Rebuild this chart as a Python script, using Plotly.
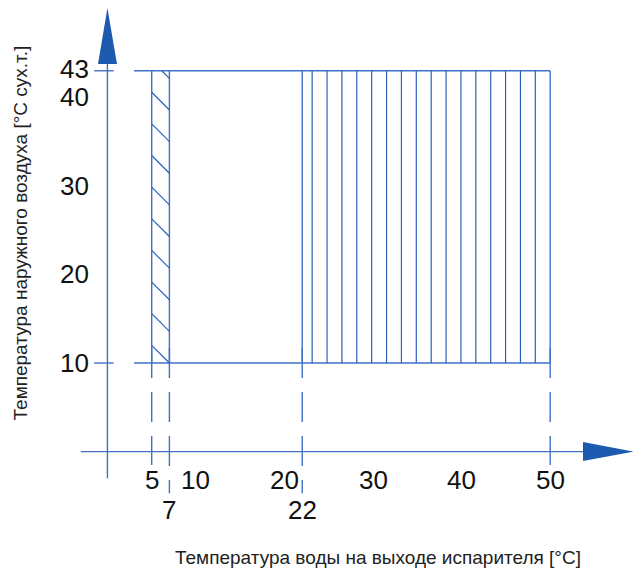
import numpy as np
import plotly.graph_objects as go

# Tick labels on the axes
x_tick_vals = [5, 10, 20, 30, 40, 50]
x_tick_vals_low = [7, 22]
y_tick_vals = [10, 20, 30, 40, 43]

# Operating envelope limits
water_zone_a = [5, 7]      # narrow zone, diagonal hatch
water_zone_b = [22, 50]    # main zone, vertical hatch
air_range = [10, 43]
limit_start_x = 3          # horizontal limit lines begin here

x_title = "Температура воды на выходе испарителя [°C]"
y_title = "Температура наружного воздуха [°C сух.т.]"

LINE = "#3f72c4"
HATCH = "#2a62b8"
ARROW = "#1c5bb0"
TXT = "#111111"

fig = go.Figure()


def add_segments(segs, color=LINE, width=1.4, dash="solid"):
    xs, ys = [], []
    for (x0, y0, x1, y1) in segs:
        xs += [x0, x1, None]
        ys += [y0, y1, None]
    fig.add_trace(go.Scatter(x=xs, y=ys, mode="lines", hoverinfo="skip",
                             line=dict(color=color, width=width, dash=dash),
                             showlegend=False))


lo, hi = air_range

# axes
add_segments([(0, -3, 0, 43.8), (-3, 0, 53.8, 0)])
# y ticks at the envelope limits
add_segments([(-1.5, lo, 0.7, lo), (-1.5, hi, 0.7, hi)])

# envelope outline
segs = [(limit_start_x, lo, water_zone_b[1], lo),
        (limit_start_x, hi, water_zone_b[1], hi)]
for xv in water_zone_a + water_zone_b:
    segs.append((xv, lo, xv, hi))
add_segments(segs)

# dashed projections down to the x axis
add_segments([(water_zone_a[0], 11.7, water_zone_a[0], -1.5),
              (water_zone_b[1], 11.7, water_zone_b[1], -1.5)],
             dash="30px,14px")
add_segments([(water_zone_a[1], 11.7, water_zone_a[1], -4.7),
              (water_zone_b[0], 11.7, water_zone_b[0], -4.7)],
             dash="30px,14px")

# diagonal hatch in the narrow zone
drop = water_zone_a[1] - water_zone_a[0]
hseg = []
for y0 in np.arange(lo + drop, hi + drop + 0.01, 25 / 7):
    x0 = water_zone_a[0]
    if y0 > hi:
        x0 += y0 - hi
        ys = hi
    else:
        ys = y0
    hseg.append((x0, ys, water_zone_a[1], y0 - drop))
add_segments(hseg, color=HATCH, width=1.2)

# vertical hatch in the main zone
vseg = []
for k in range(1, 17):
    xv = water_zone_b[1] - k * 1.68
    vseg.append((xv, lo, xv, hi))
add_segments(vseg, color=HATCH, width=1.2)

# arrow heads
fig.add_trace(go.Scatter(x=[-1.06, 1.08, 0.0, -1.06], y=[43.75, 43.75, 50.1, 43.75],
                         mode="lines", fill="toself", fillcolor=ARROW,
                         line=dict(width=0, color=ARROW), hoverinfo="skip",
                         showlegend=False))
fig.add_trace(go.Scatter(x=[53.7, 53.7, 59.4, 53.7], y=[1.08, -1.05, 0.0, 1.08],
                         mode="lines", fill="toself", fillcolor=ARROW,
                         line=dict(width=0, color=ARROW), hoverinfo="skip",
                         showlegend=False))

tick_font = dict(family="Liberation Sans, Arial, sans-serif", size=26, color=TXT)
for v in x_tick_vals:
    fig.add_annotation(x=v, y=-3.2, text=str(v), showarrow=False,
                       xanchor="center", yanchor="middle", font=tick_font)
for v in x_tick_vals_low:
    fig.add_annotation(x=v, y=-6.6, text=str(v), showarrow=False,
                       xanchor="center", yanchor="middle", font=tick_font)
for v in y_tick_vals:
    fig.add_annotation(x=-1.9, y=v + (0.25 if v == 43 else 0), text=str(v),
                       showarrow=False, xanchor="right", yanchor="middle",
                       font=tick_font)

title_font = dict(family="Liberation Sans, Arial, sans-serif", size=19, color="#222222")
fig.add_annotation(x=30.5, y=-12.0, text=x_title, showarrow=False,
                   xanchor="center", yanchor="middle", font=title_font)
fig.add_annotation(x=-9.8, y=24.7, text=y_title, showarrow=False, textangle=-90,
                   xanchor="center", yanchor="middle", font=title_font)

fig.update_layout(
    width=633, height=574,
    margin=dict(l=0, r=0, t=0, b=0),
    paper_bgcolor="white", plot_bgcolor="white",
    xaxis=dict(range=[-12.13, 59.35], visible=False, fixedrange=True),
    yaxis=dict(range=[-13.82, 50.99], visible=False, fixedrange=True),
)

fig.write_html("out.html")
